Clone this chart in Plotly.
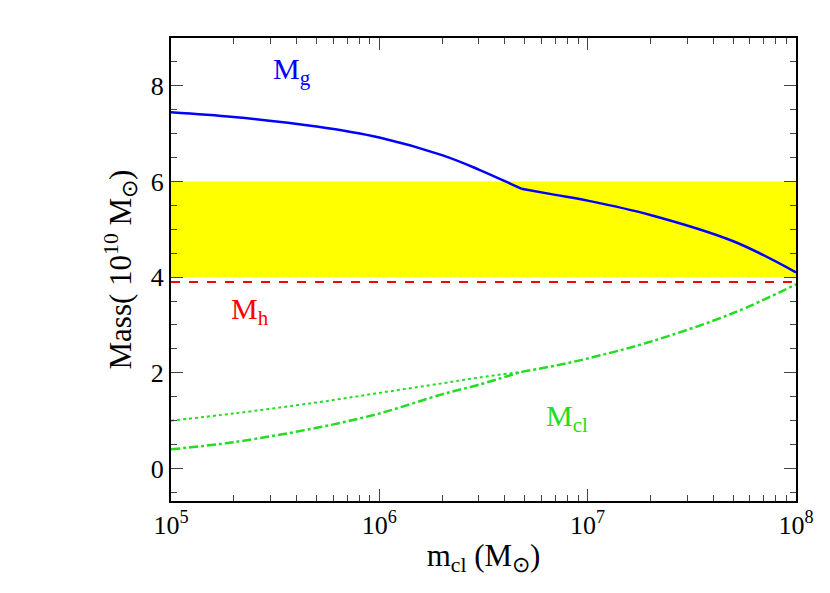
import plotly.graph_objects as go

m_cl = [1e5, 2e5, 5e5, 1e6, 2e6, 3e6, 4.8e6, 7e6, 1e7, 2e7, 5e7, 1e8]
M_g = [7.45, 7.35, 7.15, 6.92, 6.55, 6.25, 5.85, 5.72, 5.6, 5.3, 4.75, 4.1]
M_cl = [0.4, 0.55, 0.85, 1.15, 1.55, 1.75, 2.02, 2.15, 2.3, 2.65, 3.25, 3.85]
dot_x = [1e5, 2e5, 5e5, 1e6, 2e6, 3e6, 4.8e6]
dot_y = [1.0, 1.15, 1.38, 1.58, 1.78, 1.9, 2.02]
M_h = 3.9
band = [4.0, 6.0]
minor_x = [k * 10**e for e in (5, 6, 7) for k in range(2, 10)]

fig = go.Figure()
fig.add_shape(type="rect", xref="paper", yref="y", x0=0, x1=1, y0=band[0], y1=band[1],
              fillcolor="yellow", line_width=0, layer="below")
fig.add_trace(go.Scatter(x=[1e5, 1e8], y=[M_h, M_h], mode="lines",
                         line=dict(color="red", dash="dash", width=2)))
fig.add_trace(go.Scatter(x=m_cl[:7], y=M_g[:7], mode="lines", line=dict(color="blue", width=2.5, shape="spline")))
fig.add_trace(go.Scatter(x=m_cl[6:], y=M_g[6:], mode="lines", line=dict(color="blue", width=2.5, shape="spline")))
fig.add_trace(go.Scatter(x=m_cl[:7], y=M_cl[:7], mode="lines", line=dict(color="#22dd22", dash="dashdot", width=2.5, shape="spline")))
fig.add_trace(go.Scatter(x=m_cl[6:], y=M_cl[6:], mode="lines", line=dict(color="#22dd22", dash="dashdot", width=2.5, shape="spline")))
fig.add_trace(go.Scatter(x=dot_x, y=dot_y, mode="lines", line=dict(color="#22dd22", dash="dot", width=2, shape="spline")))

fig.add_annotation(x=5.58, y=8.3, text="M<sub>g</sub>", showarrow=False, font=dict(color="blue", size=30))
fig.add_annotation(x=5.38, y=3.3, text="M<sub>h</sub>", showarrow=False, font=dict(color="red", size=30))
fig.add_annotation(x=6.9, y=1.05, text="M<sub>cl</sub>", showarrow=False, font=dict(color="#22dd22", size=30))

fig.update_layout(
    width=830, height=593, plot_bgcolor="white", paper_bgcolor="white", showlegend=False,
    margin=dict(l=163, r=42, t=30, b=100),
    font=dict(family="Liberation Serif", size=26, color="black"),
)
fig.update_xaxes(type="log", range=[5, 8], tickvals=[1e5, 1e6, 1e7, 1e8],
                 ticktext=["10<sup>5</sup>", "10<sup>6</sup>", "10<sup>7</sup>", "10<sup>8</sup>"],
                 ticks="inside", ticklen=12, mirror="ticks", showline=True, linecolor="black", linewidth=2,
                 showgrid=False, minor=dict(ticks="inside", ticklen=6, showgrid=False, tickvals=minor_x),
                 title=dict(text="m<sub>cl</sub> (M<sub>⊙</sub>)", standoff=5))
fig.update_yaxes(range=[-0.68, 9.0], tickvals=[0, 2, 4, 6, 8], ticks="inside", ticklen=12,
                 mirror="ticks", showline=True, linecolor="black", linewidth=2, showgrid=False, zeroline=False,
                 minor=dict(ticks="inside", ticklen=6, dtick=0.5),
                 title=dict(text="Mass( 10<sup>10</sup> M<sub>⊙</sub>)", standoff=10))
fig.write_html("out.html")
